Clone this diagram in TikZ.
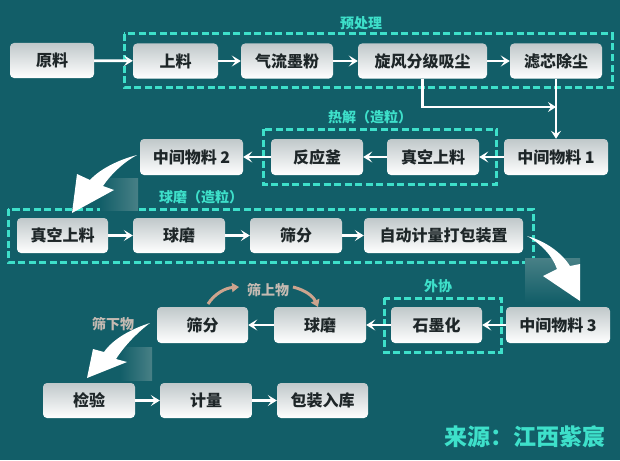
\documentclass[tikz,border=0pt]{standalone}
\usepackage{fontspec}
\setmainfont{Noto Sans CJK SC}
\usetikzlibrary{arrows.meta}
\definecolor{bg}{RGB}{18,94,104}
\definecolor{bglite}{RGB}{72,128,134}
\definecolor{dash}{RGB}{62,224,202}
\definecolor{boxtop}{RGB}{192,200,202}
\definecolor{txt}{RGB}{30,38,40}
\definecolor{tan}{RGB}{204,164,142}
\definecolor{graylab}{RGB}{196,186,178}
\tikzset{
  box/.style={rounded corners=4pt, top color=boxtop, bottom color=white, draw=none,
    minimum height=35pt, inner sep=0pt, font=\fontsize{16}{16}\selectfont\bfseries, text=txt},
  grp/.style={draw=dash, line width=3pt, dash pattern=on 7pt off 3.5pt},
  grplab/.style={text=dash, font=\fontsize{14}{14}\selectfont\bfseries},
  conn/.style={draw=white, line width=2.8pt, -{Stealth[length=9pt,width=11pt,inset=4pt]}},
  thin/.style={draw=white, line width=2.2pt},
  swoosh/.style={fill=white, draw=none},
  tanarrow/.style={draw=tan, line width=3pt, -{Triangle[length=7pt,width=9pt]}},
}
\begin{document}
\begin{tikzpicture}[x=1pt,y=-1pt]
\fill[bg] (0,0) rectangle (620,460);
\useasboundingbox (0,0) rectangle (620,460);

% group frames
\draw[grp] (124,34) rectangle (612,87);
\draw[grp] (263,129) rectangle (496,184);
\draw[grp] (8,209) rectangle (533,262);
\draw[grp] (384,298) rectangle (501,352);

\node[grplab] (lab1) at (361,23) {预处理};
\node[grplab] (lab2) at (370,117) {热解（造粒）};
\node[grplab] (lab3) at (201,197) {球磨（造粒）};
\node[grplab] (lab4) at (438,286) {外协};

% faint shading patches behind swooshes
\shade[left color=bg, right color=bglite] (100,178) rectangle (138,210);
\shade[top color=bglite, bottom color=bg] (525,258) rectangle (580,302);
\shade[left color=bg, right color=bglite] (120,347) rectangle (152,380);

% row 1
\node[box, minimum width=84pt] (yl) at (52,60.5) {原料};
\node[box, minimum width=85pt] (sl1) at (175.5,61) {上料};
\node[box, minimum width=92pt] (qlmf) at (287,61) {气流墨粉};
\node[box, minimum width=129pt] (xf) at (422.5,61) {旋风分级吸尘};
\node[box, minimum width=92pt] (lx) at (556,61) {滤芯除尘};

% row 2
\node[box, minimum width=103pt, minimum height=36pt] (m2) at (191.5,157) {中间物料 2};
\node[box, minimum width=92pt, minimum height=36pt] (fyf) at (317,157) {反应釜};
\node[box, minimum width=92pt, minimum height=36pt] (zk1) at (433,157) {真空上料};
\node[box, minimum width=104pt, minimum height=36pt] (m1) at (556,157) {中间物料 1};

% row 3
\node[box, minimum width=91pt] (zk2) at (62.5,235.5) {真空上料};
\node[box, minimum width=92pt] (qm1) at (179,235.5) {球磨};
\node[box, minimum width=92pt] (sf1) at (296,235.5) {筛分};
\node[box, minimum width=159pt] (zd) at (443.5,235.5) {自动计量打包装置};

% row 4
\node[box, minimum width=91pt, minimum height=36pt] (sf2) at (202.5,325) {筛分};
\node[box, minimum width=92pt, minimum height=36pt] (qm2) at (320,325) {球磨};
\node[box, minimum width=91pt, minimum height=36pt] (smh) at (436.5,325) {石墨化};
\node[box, minimum width=104pt, minimum height=36pt] (m3) at (558,325) {中间物料 3};

% row 5
\node[box, minimum width=92pt] (jy) at (89,400.5) {检验};
\node[box, minimum width=92pt] (jl) at (206,400.5) {计量};
\node[box, minimum width=91pt] (bz) at (322.5,400.5) {包装入库};

% connectors row 1
\draw[conn] (yl) -- (sl1);
\draw[conn] (sl1) -- (qlmf);
\draw[conn] (qlmf) -- (xf);
\draw[conn] (xf) -- (lx);
\coordinate (jn) at (556,107);
\draw[thin, -{Stealth[length=8pt,width=10pt,inset=3pt]}] (xf.south) |- (jn);
\draw[thin, -{Stealth[length=8pt,width=10pt,inset=3pt]}] (lx.south) -- (m1.north);

% row 2
\draw[conn] (m1) -- (zk1);
\draw[conn] (zk1) -- (fyf);
\draw[conn] (fyf) -- (m2);

% row 3
\draw[conn] (zk2) -- (qm1);
\draw[conn] (qm1) -- (sf1);
\draw[conn] (sf1) -- (zd);

% row 4
\draw[conn] (m3) -- (smh);
\draw[conn] (smh) -- (qm2);
\draw[conn] (qm2) -- (sf2);

% row 5
\draw[conn] (jy) -- (jl);
\draw[conn] (jl) -- (bz);

% swoosh arrows
\fill[swoosh] (137,155) .. controls (118,160) and (100,169) .. (90,180)
  -- (77,174) -- (72,213) -- (114,190) -- (103,186)
  .. controls (111,174) and (124,162) .. cycle;
\fill[swoosh] (527,236) .. controls (541,244) and (552,255) .. (557,269)
  -- (543,276) -- (580,301) -- (580,264) -- (570,266)
  .. controls (561,252) and (545,241) .. cycle;
\fill[swoosh] (150,323) .. controls (131,329) and (113,339) .. (104,352)
  -- (93,349) -- (87,378) -- (127,362) -- (116,359)
  .. controls (125,345) and (138,332) .. cycle;

% tan curved arrows and labels
\node[text=graylab, font=\fontsize{14}{14}\selectfont\bfseries] (ssw) at (268,290) {筛上物};
\node[text=graylab, font=\fontsize{14}{14}\selectfont\bfseries] (sxw) at (113,324) {筛下物};
\coordinate (t1a) at (208,304);
\coordinate (t1b) at (239,287);
\coordinate (t2a) at (293,287);
\coordinate (t2b) at (318,307);
\draw[tanarrow] (t1a) .. controls (215,293) and (226,288) .. (t1b);
\draw[tanarrow] (t2a) .. controls (305,290) and (313,296) .. (t2b);

% source
\node[text=dash, font=\fontsize{23}{23}\selectfont\bfseries] (src) at (525,437) {来源：江西紫宸};
\end{tikzpicture}
\end{document}
